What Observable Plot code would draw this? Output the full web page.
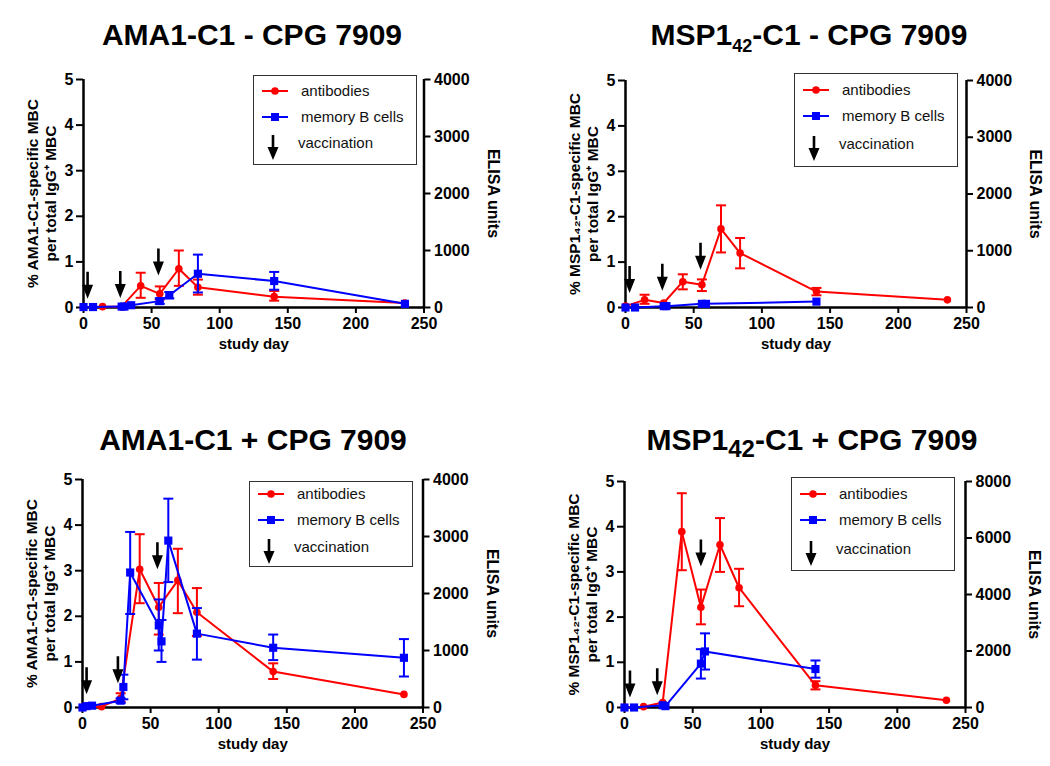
<!DOCTYPE html>
<html><head><meta charset="utf-8">
<script src="https://cdn.jsdelivr.net/npm/d3@7"></script>
<script src="https://cdn.jsdelivr.net/npm/@observablehq/plot@0.6"></script>
<style>
body{margin:0;background:#fff;font-family:"Liberation Sans",Arial,Helvetica,sans-serif;}
#root{position:relative;width:1050px;height:766px;overflow:hidden;background:#fff;}
.title{position:absolute;width:500px;text-align:center;font-size:30px;font-weight:bold;line-height:30px;color:#000;white-space:nowrap;}
.title sub{line-height:0;}
.panel{position:absolute;}
.legend{position:absolute;border:1.5px solid #333;box-sizing:border-box;background:#fff;}
</style></head><body><div id="root"></div>
<script>
// ---------- data ----------
const titles = ["AMA1-C1 - CPG 7909", "MSP1|42|-C1 - CPG 7909", "AMA1-C1 + CPG 7909", "MSP1|42|-C1 + CPG 7909"];
const leftLabels = ["% AMA1-C1-specific MBC\nper total IgG\u207A MBC", "% MSP1\u2084\u2082-C1-specific MBC\nper total IgG\u207A MBC",
                    "% AMA1-C1-specific MBC\nper total IgG\u207A MBC", "% MSP1\u2084\u2082-C1-specific MBC\nper total IgG\u207A MBC"];
const xTicks = [0, 50, 100, 150, 200, 250];
const yTicks = [0, 1, 2, 3, 4, 5];
const elisaTicksA = [0, 1000, 2000, 3000, 4000];
const elisaTicksB = [0, 2000, 4000, 6000, 8000];

// panel 1: AMA1-C1 - CPG 7909
const p1AbDay  = [0, 14, 28, 42, 56, 70, 84, 140, 236];
const p1AbElisa= [10, 15, 15, 380, 240, 680, 355, 190, 80];
const p1AbLo   = [null, null, null, 170, 140, 380, 225, 120, null];
const p1AbHi   = [null, null, null, 610, 370, 1000, 490, 290, null];
const p1MbDay  = [0, 7, 28, 30, 35, 56, 63, 84, 140, 236];
const p1Mb     = [0.01, 0.01, 0.02, 0.02, 0.05, 0.14, 0.27, 0.74, 0.58, 0.08];
const p1MbLo   = [null, null, null, null, null, 0.08, 0.2, 0.33, 0.39, null];
const p1MbHi   = [null, null, null, null, null, 0.2, 0.34, 1.16, 0.78, null];
const p1VacDay = [3, 27, 55];
const p1VacTip = [0.19, 0.21, 0.70];

// panel 2: MSP1-42-C1 - CPG 7909
const p2AbDay  = [0, 14, 28, 42, 56, 70, 84, 140, 236];
const p2AbElisa= [25, 135, 80, 455, 400, 1385, 960, 280, 135];
const p2AbLo   = [null, 65, null, 320, 290, 970, 690, 215, null];
const p2AbHi   = [null, 225, null, 585, 495, 1800, 1225, 345, null];
const p2MbDay  = [0, 7, 28, 30, 56, 59, 140];
const p2Mb     = [0.0, 0.0, 0.03, 0.03, 0.08, 0.08, 0.13];
const p2MbLo   = [null, null, null, null, null, null, null];
const p2MbHi   = [null, null, null, null, null, null, null];
const p2VacDay = [3, 27, 55];
const p2VacTip = [0.32, 0.37, 0.83];

// panel 3: AMA1-C1 + CPG 7909
const p3AbDay  = [0, 14, 28, 42, 56, 70, 84, 140, 236];
const p3AbElisa= [5, 15, 160, 2425, 1760, 2230, 1670, 630, 230];
const p3AbLo   = [null, null, 100, 1830, 1280, 1655, 1255, 500, null];
const p3AbHi   = [null, null, 250, 3040, 2185, 2785, 2095, 775, null];
const p3MbDay  = [0, 3, 7, 28, 30, 35, 56, 58, 63, 84, 140, 236];
const p3Mb     = [0.0, 0.03, 0.04, 0.15, 0.45, 2.96, 1.8, 1.45, 3.66, 1.62, 1.31, 1.09];
const p3MbLo   = [null, null, null, 0.1, 0.18, 2.05, 1.25, 1.0, 2.75, 1.05, 1.04, 0.68];
const p3MbHi   = [null, null, null, 0.2, 0.72, 3.85, 2.37, 1.92, 4.58, 2.18, 1.6, 1.5];
const p3VacDay = [3, 26, 55];
const p3VacTip = [0.29, 0.53, 3.03];

// panel 4: MSP1-42-C1 + CPG 7909
const p4AbDay  = [0, 14, 28, 42, 56, 70, 84, 140, 236];
const p4AbElisa= [5, 30, 175, 6225, 3550, 5760, 4240, 785, 255];
const p4AbLo   = [null, null, null, 4860, 2945, 4800, 3585, 640, null];
const p4AbHi   = [null, null, null, 7585, 4175, 6705, 4910, 930, null];
const p4MbDay  = [0, 7, 28, 30, 56, 59, 140];
const p4Mb     = [0.0, 0.0, 0.05, 0.03, 0.97, 1.24, 0.85];
const p4MbLo   = [null, null, null, null, 0.64, 0.84, 0.66];
const p4MbHi   = [null, null, null, null, 1.29, 1.64, 1.04];
const p4VacDay = [4, 24, 56];
const p4VacTip = [0.22, 0.27, 3.12];

// ---------- layout ----------
const FONT = '"Liberation Sans", Arial, Helvetica, sans-serif';
const abColor = "#ff0000", mbColor = "#0000ff";
const panels = [
  {ab:[p1AbDay,p1AbElisa,p1AbLo,p1AbHi], mb:[p1MbDay,p1Mb,p1MbLo,p1MbHi], vac:[p1VacDay,p1VacTip], elisa: elisaTicksA,
   ox:0, top:60, ml:83, mr:101.5, mb_:53, titleX:252, titleTop:20, subSize:0.6,
   legend:{left:253, top:75, w:164, h:90, rows:[16,42,68]}},
  {ab:[p2AbDay,p2AbElisa,p2AbLo,p2AbHi], mb:[p2MbDay,p2Mb,p2MbLo,p2MbHi], vac:[p2VacDay,p2VacTip], elisa: elisaTicksA,
   ox:525, top:61, ml:100, mr:84, mb_:54, titleX:809, titleTop:20, subSize:0.6,
   legend:{left:794, top:73, w:164, h:94, rows:[17,43,71]}},
  {ab:[p3AbDay,p3AbElisa,p3AbLo,p3AbHi], mb:[p3MbDay,p3Mb,p3MbLo,p3MbHi], vac:[p3VacDay,p3VacTip], elisa: elisaTicksA,
   ox:0, top:460, ml:82, mr:102.5, mb_:53, titleX:253, titleTop:425, subSize:0.6,
   legend:{left:249, top:481, w:164, h:86, rows:[13,39,66]}},
  {ab:[p4AbDay,p4AbElisa,p4AbLo,p4AbHi], mb:[p4MbDay,p4Mb,p4MbLo,p4MbHi], vac:[p4VacDay,p4VacTip], elisa: elisaTicksB,
   ox:525, top:462, ml:99, mr:85, mb_:55, titleX:812, titleTop:425, subSize:0.8,
   legend:{left:791, top:477, w:164, h:94, rows:[17,43,72]}}
];

const capSym = {draw(ctx){ ctx.moveTo(-5, 0); ctx.lineTo(5, 0); }};
const arrowSym = {draw(ctx){
  ctx.moveTo(-1.3, -27); ctx.lineTo(1.3, -27); ctx.lineTo(1.3, -14); ctx.lineTo(5.5, -14);
  ctx.lineTo(0, 0); ctx.lineTo(-5.5, -14); ctx.lineTo(-1.3, -14); ctx.closePath();
}};

const root = document.getElementById("root");

panels.forEach((p, k) => {
  const elisaMax = p.elisa[p.elisa.length - 1];
  const ratio = elisaMax / 5;
  const [aD, aV, aL, aH] = p.ab;
  const ab = aD.map((d, i) => ({day: d, v: aV[i] / ratio, lo: aL[i] == null ? null : aL[i] / ratio, hi: aH[i] == null ? null : aH[i] / ratio}));
  const [mD, mV, mL, mH] = p.mb;
  const mb = mD.map((d, i) => ({day: d, v: mV[i], lo: mL[i], hi: mH[i]}));
  const abErr = ab.filter(d => d.lo != null);
  const mbErr = mb.filter(d => d.lo != null);
  const vac = p.vac[0].map((d, i) => ({day: d, tip: p.vac[1][i]}));

  const plot = Plot.plot({
    width: 525, height: 300,
    marginLeft: p.ml, marginRight: p.mr, marginTop: 19, marginBottom: p.mb_,
    x: {domain: [0, 250], axis: null, label: null},
    y: {domain: [0, 5], axis: null, label: null},
    style: {fontFamily: FONT, fontSize: "16px", fontWeight: "bold", color: "#000", background: "transparent", overflow: "visible"},
    marks: [
      Plot.ruleX([0], {y1: 0, y2: 5, stroke: "#000", strokeWidth: 2.5}),
      Plot.ruleX([250], {y1: 0, y2: 5, stroke: "#000", strokeWidth: 2.5}),
      Plot.ruleY([0], {x1: 0, x2: 250, stroke: "#000", strokeWidth: 2.5}),
      Plot.axisX({ticks: xTicks, tickSize: 6, tickPadding: 4, strokeWidth: 2, label: null, tickFormat: d => String(d)}),
      Plot.axisY({ticks: yTicks, tickSize: 7, tickPadding: 3, strokeWidth: 2, label: null, tickFormat: d => String(d)}),
      Plot.axisY({anchor: "right", ticks: p.elisa.map(t => t / ratio), tickSize: 6, tickPadding: 4, strokeWidth: 2, label: null,
                  tickFormat: d => String(Math.round(d * ratio))}),
      Plot.text([leftLabels[k]], {frameAnchor: "left", textAnchor: "middle", lineAnchor: "middle", dx: -42, rotate: -90, fontSize: 15.5, fontWeight: "bold", lineHeight: 1.17}),
      Plot.text(["ELISA units"], {frameAnchor: "right", textAnchor: "middle", lineAnchor: "middle", dx: 69, rotate: 90, fontSize: 16, fontWeight: "bold"}),
      Plot.text(["study day"], {frameAnchor: "bottom", dy: 41, fontSize: 15, fontWeight: "bold"}),
      // antibodies (red)
      Plot.line(ab, {x: "day", y: "v", stroke: abColor, strokeWidth: 2}),
      Plot.ruleX(abErr, {x: "day", y1: "lo", y2: "hi", stroke: abColor, strokeWidth: 2}),
      Plot.dot(abErr, {x: "day", y: "lo", symbol: capSym, stroke: abColor, strokeWidth: 2, fill: "none"}),
      Plot.dot(abErr, {x: "day", y: "hi", symbol: capSym, stroke: abColor, strokeWidth: 2, fill: "none"}),
      Plot.dot(ab, {x: "day", y: "v", r: 3.8, fill: abColor, stroke: "none"}),
      // memory B cells (blue)
      Plot.line(mb, {x: "day", y: "v", stroke: mbColor, strokeWidth: 2}),
      Plot.ruleX(mbErr, {x: "day", y1: "lo", y2: "hi", stroke: mbColor, strokeWidth: 2}),
      Plot.dot(mbErr, {x: "day", y: "lo", symbol: capSym, stroke: mbColor, strokeWidth: 2, fill: "none"}),
      Plot.dot(mbErr, {x: "day", y: "hi", symbol: capSym, stroke: mbColor, strokeWidth: 2, fill: "none"}),
      Plot.dot(mb, {x: "day", y: "v", r: 4.6, symbol: "square", fill: mbColor, stroke: "none"}),
      // vaccination arrows
      Plot.dot(vac, {x: "day", y: "tip", symbol: arrowSym, fill: "#000", stroke: "none"})
    ]
  });
  const wrap = document.createElement("div");
  wrap.className = "panel";
  wrap.style.left = p.ox + "px";
  wrap.style.top = p.top + "px";
  wrap.appendChild(plot);
  root.appendChild(wrap);

  // title
  const t = document.createElement("div");
  t.className = "title";
  t.style.left = (p.titleX - 250) + "px";
  t.style.top = p.titleTop + "px";
  const parts = titles[k].split("|");
  if (parts.length === 3) {
    t.append(parts[0]);
    const s = document.createElement("sub");
    s.style.fontSize = p.subSize + "em";
    s.textContent = parts[1];
    t.appendChild(s);
    t.append(parts[2]);
  } else t.textContent = titles[k];
  root.appendChild(t);

  // legend
  const L = p.legend, [r1, r2, r3] = L.rows;
  const lg = document.createElement("div");
  lg.className = "legend";
  Object.assign(lg.style, {left: L.left + "px", top: L.top + "px", width: L.w + "px", height: L.h + "px"});
  lg.innerHTML = `<svg width="${L.w}" height="${L.h}" style="position:absolute;left:-1.5px;top:-1.5px;overflow:visible;font-family:${FONT.replace(/"/g, "'")};font-size:15px">
    <line x1="9" x2="35" y1="${r1}" y2="${r1}" stroke="${abColor}" stroke-width="2"/>
    <circle cx="22" cy="${r1}" r="3.8" fill="${abColor}"/>
    <line x1="9" x2="35" y1="${r2}" y2="${r2}" stroke="${mbColor}" stroke-width="2"/>
    <rect x="18" y="${r2 - 4}" width="8" height="8" fill="${mbColor}"/>
    <path d="M18.7 ${r3 - 8} L21.3 ${r3 - 8} L21.3 ${r3 + 4} L25.5 ${r3 + 4} L20 ${r3 + 17} L14.5 ${r3 + 4} L18.7 ${r3 + 4} Z" fill="#000"/>
    <text x="48" y="${r1}" dy="0.35em" fill="#111">antibodies</text>
    <text x="48" y="${r2}" dy="0.35em" fill="#111">memory B cells</text>
    <text x="45" y="${r3}" dy="0.35em" fill="#111">vaccination</text>
  </svg>`;
  root.appendChild(lg);
});
</script>
</body></html>
